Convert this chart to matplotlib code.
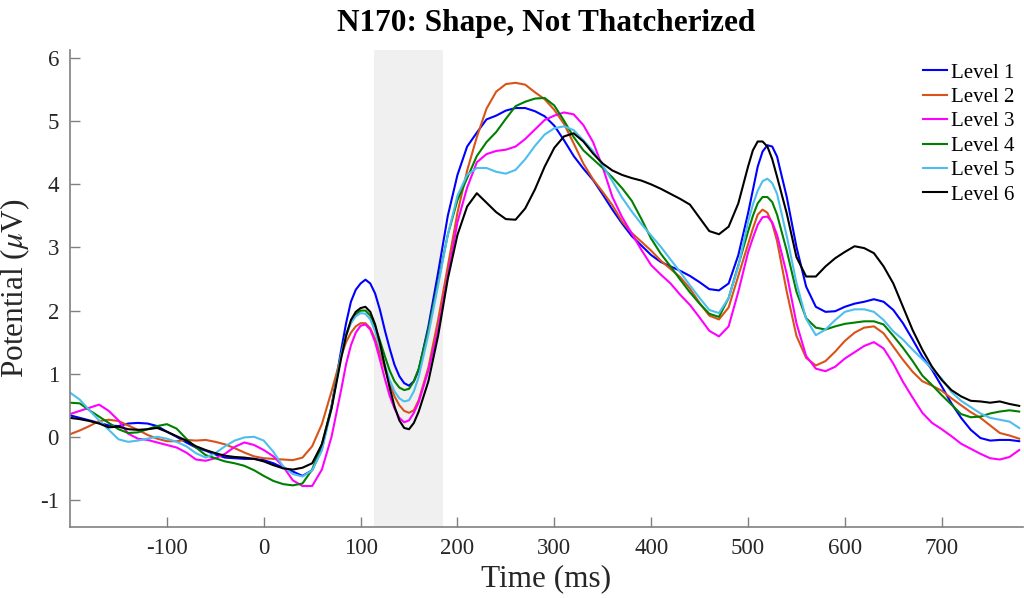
import numpy as np
import matplotlib
matplotlib.use("Agg")
import matplotlib.pyplot as plt

plt.rcParams['font.family'] = ['Liberation Serif', 'DejaVu Serif']
plt.rcParams['mathtext.fontset'] = 'stix'
plt.rcParams['axes.unicode_minus'] = False

# time samples (ms)
times = [-200, -190, -180, -170, -160, -150, -140, -130, -120, -110, -100, -90, -80, -70, -60,
         -50, -40, -30, -20, -10, 0, 10, 20, 30, 40, 50, 60, 70, 80,
         85, 90, 95, 100, 105, 110, 115, 120, 125, 130, 135, 140, 145, 150, 155, 160,
         170, 180, 190, 200, 210, 220, 230, 240, 250, 260, 270, 280, 290, 300, 310, 320,
         330, 340, 350, 360, 370, 380, 390, 400, 410, 420, 430, 440, 450, 460, 470, 480, 490,
         500, 505, 510, 515, 520, 525, 530,
         540, 550, 560, 570, 580, 590, 600, 610, 620, 630, 640, 650, 660, 670, 680, 690,
         700, 710, 720, 730, 740, 750, 760, 770, 780]

level1 = [0.34, 0.30, 0.26, 0.22, 0.18, 0.17, 0.21, 0.22, 0.21, 0.17, 0.08, 0.00, -0.09, -0.17, -0.22,
          -0.28, -0.33, -0.34, -0.35, -0.35, -0.37, -0.42, -0.49, -0.55, -0.62, -0.53, -0.19, 0.48, 1.38,
          1.80, 2.14, 2.33, 2.43, 2.49, 2.43, 2.27, 2.01, 1.69, 1.40, 1.14, 0.96, 0.85, 0.81, 0.88, 1.06,
          1.75, 2.60, 3.50, 4.15, 4.60, 4.82, 5.03, 5.09, 5.17, 5.21, 5.21, 5.16, 5.08, 4.93, 4.70, 4.45,
          4.25, 4.07, 3.84, 3.60, 3.38, 3.18, 3.03, 2.88, 2.77, 2.70, 2.63, 2.55, 2.45, 2.34, 2.32, 2.43, 2.88,
          3.54, 3.91, 4.28, 4.52, 4.62, 4.60, 4.44,
          3.80, 3.01, 2.38, 2.06, 1.98, 1.99, 2.06, 2.11, 2.14, 2.18, 2.14, 2.01, 1.80, 1.54, 1.27, 1.06,
          0.80, 0.53, 0.30, 0.11, -0.02, -0.06, -0.05, -0.05, -0.07]

level2 = [0.04, 0.10, 0.17, 0.25, 0.27, 0.25, 0.18, 0.11, 0.03, -0.03, -0.07, -0.07, -0.05, -0.06, -0.05,
          -0.08, -0.12, -0.18, -0.25, -0.31, -0.34, -0.35, -0.36, -0.37, -0.33, -0.15, 0.20, 0.72, 1.28,
          1.50, 1.65, 1.75, 1.80, 1.80, 1.72, 1.55, 1.32, 1.08, 0.84, 0.64, 0.50, 0.41, 0.38, 0.42, 0.58,
          1.10, 1.85, 2.70, 3.55, 4.22, 4.75, 5.20, 5.47, 5.59, 5.61, 5.58, 5.46, 5.35, 5.18, 4.96, 4.65,
          4.33, 4.08, 3.88, 3.67, 3.41, 3.23, 3.09, 2.95, 2.79, 2.66, 2.53, 2.35, 2.12, 1.92, 1.86, 2.05, 2.55,
          3.05, 3.30, 3.52, 3.60, 3.55, 3.38, 3.10,
          2.30, 1.60, 1.25, 1.13, 1.20, 1.35, 1.52, 1.65, 1.73, 1.75, 1.64, 1.43, 1.22, 1.03, 0.88, 0.81,
          0.73, 0.61, 0.50, 0.39, 0.30, 0.18, 0.06, 0.02, -0.03]

level3 = [0.36, 0.41, 0.46, 0.51, 0.41, 0.26, 0.05, -0.03, -0.05, -0.09, -0.13, -0.17, -0.25, -0.36, -0.38,
          -0.34, -0.27, -0.16, -0.09, -0.13, -0.21, -0.31, -0.47, -0.69, -0.78, -0.78, -0.52, 0.00, 0.75,
          1.15, 1.45, 1.65, 1.76, 1.78, 1.70, 1.50, 1.22, 0.92, 0.65, 0.45, 0.30, 0.23, 0.26, 0.38, 0.55,
          1.05, 1.70, 2.55, 3.40, 3.95, 4.35, 4.48, 4.53, 4.55, 4.60, 4.72, 4.87, 5.02, 5.09, 5.14, 5.11,
          4.94, 4.67, 4.27, 3.80, 3.48, 3.22, 2.96, 2.72, 2.57, 2.43, 2.25, 2.09, 1.89, 1.68, 1.59, 1.75, 2.30,
          2.92, 3.15, 3.36, 3.48, 3.49, 3.40, 3.20,
          2.58, 1.80, 1.28, 1.08, 1.04, 1.11, 1.24, 1.34, 1.44, 1.50, 1.40, 1.16, 0.87, 0.62, 0.38, 0.22,
          0.12, 0.01, -0.11, -0.19, -0.27, -0.34, -0.36, -0.32, -0.21]

level4 = [0.54, 0.53, 0.42, 0.32, 0.22, 0.12, 0.06, 0.07, 0.12, 0.17, 0.20, 0.13, -0.03, -0.17, -0.29,
          -0.34, -0.39, -0.42, -0.46, -0.53, -0.62, -0.70, -0.75, -0.77, -0.74, -0.52, -0.12, 0.48, 1.30,
          1.62, 1.82, 1.94, 2.00, 2.00, 1.92, 1.75, 1.52, 1.28, 1.05, 0.88, 0.78, 0.74, 0.76, 0.88, 1.08,
          1.70, 2.45, 3.20, 3.75, 4.10, 4.45, 4.67, 4.83, 5.04, 5.24, 5.31, 5.36, 5.37, 5.25, 5.01, 4.75,
          4.54, 4.40, 4.26, 4.11, 3.94, 3.74, 3.45, 3.14, 2.90, 2.70, 2.49, 2.29, 2.11, 1.95, 1.90, 2.20, 2.72,
          3.25, 3.50, 3.70, 3.80, 3.80, 3.72, 3.52,
          2.95, 2.30, 1.88, 1.73, 1.70, 1.75, 1.79, 1.81, 1.83, 1.83, 1.78, 1.60, 1.41, 1.20, 0.97, 0.82,
          0.66, 0.51, 0.36, 0.31, 0.32, 0.37, 0.40, 0.42, 0.40]

level5 = [0.70, 0.59, 0.42, 0.26, 0.11, -0.04, -0.08, -0.06, -0.03, 0.00, -0.03, -0.08, -0.15, -0.26, -0.33,
          -0.26, -0.15, -0.06, -0.01, 0.00, -0.06, -0.24, -0.47, -0.59, -0.63, -0.53, -0.22, 0.45, 1.30,
          1.60, 1.80, 1.91, 1.96, 1.95, 1.86, 1.67, 1.42, 1.14, 0.90, 0.72, 0.61, 0.56, 0.58, 0.72, 0.95,
          1.62, 2.40, 3.20, 3.82, 4.15, 4.26, 4.26, 4.20, 4.17, 4.23, 4.40, 4.61, 4.79, 4.89, 4.92, 4.86,
          4.70, 4.53, 4.30, 4.05, 3.79, 3.57, 3.37, 3.19, 3.01, 2.81, 2.61, 2.40, 2.20, 2.01, 1.96, 2.20, 2.70,
          3.40, 3.68, 3.90, 4.05, 4.09, 4.02, 3.85,
          3.18, 2.44, 1.87, 1.61, 1.70, 1.85, 1.98, 2.02, 2.02, 1.98, 1.85, 1.67, 1.54, 1.38, 1.23, 1.08,
          0.92, 0.71, 0.57, 0.47, 0.37, 0.30, 0.27, 0.24, 0.14]

level6 = [0.30, 0.28, 0.25, 0.21, 0.15, 0.16, 0.12, 0.11, 0.12, 0.14, 0.08, 0.01, -0.06, -0.15, -0.21,
          -0.26, -0.30, -0.32, -0.33, -0.35, -0.39, -0.45, -0.50, -0.52, -0.49, -0.42, -0.12, 0.45, 1.25,
          1.60, 1.85, 1.98, 2.04, 2.06, 1.98, 1.78, 1.48, 1.12, 0.78, 0.48, 0.26, 0.14, 0.12, 0.22, 0.40,
          0.88, 1.60, 2.50, 3.20, 3.65, 3.86, 3.71, 3.56, 3.45, 3.44, 3.62, 3.92, 4.28, 4.58, 4.76, 4.81,
          4.68, 4.49, 4.33, 4.22, 4.15, 4.10, 4.06, 4.00, 3.93, 3.85, 3.77, 3.68, 3.47, 3.26, 3.21, 3.33, 3.70,
          4.28, 4.54, 4.68, 4.68, 4.60, 4.40, 4.12,
          3.54, 2.85, 2.54, 2.54, 2.70, 2.83, 2.93, 3.02, 2.99, 2.91, 2.70, 2.43, 2.06, 1.69, 1.38, 1.11,
          0.90, 0.74, 0.64, 0.57, 0.56, 0.54, 0.56, 0.52, 0.49]

labels = ["Level 1", "Level 2", "Level 3", "Level 4", "Level 5", "Level 6"]
series = [level1, level2, level3, level4, level5, level6]
colors = ["#0000FF", "#D95319", "#FF00FF", "#008000", "#4DBEEE", "#000000"]

shade_window = [114, 185]
x_ticks = [-100, 0, 100, 200, 300, 400, 500, 600, 700]
y_ticks = [-1, 0, 1, 2, 3, 4, 5, 6]

fig = plt.figure(figsize=(10.24, 5.98), dpi=100)
ax = fig.add_axes([0.0684, 0.1187, 0.9307, 0.7977])

ax.axvspan(shade_window[0], shade_window[1], color="#F0F0F0", zorder=0, lw=0)
for vals, lab, col in zip(series, labels, colors):
    ax.plot(times, vals, color=col, lw=1.5, label=lab)

ax.set_xlim(-200, 784)
ax.set_ylim(-1.43, 6.13)
ax.set_xticks(x_ticks)
ax.set_yticks(y_ticks)

for s in ["top", "right"]:
    ax.spines[s].set_visible(False)
for s in ["left", "bottom"]:
    ax.spines[s].set_color("#808080")
    ax.spines[s].set_linewidth(1.2)
ax.tick_params(direction="in", length=7, width=1.0, color="#808080",
               labelsize=16.5, labelcolor="#262626", pad=8)

ax.set_xlabel("Time (ms)", fontsize=22.5, color="#262626", labelpad=4)
ax.set_ylabel(r"Potential ($\mu$V)", fontsize=22.5, color="#262626", labelpad=6)
ax.set_title("N170: Shape, Not Thatcherized", fontsize=22.5, fontweight="bold", pad=14)

leg = ax.legend(loc="upper right", frameon=False, fontsize=15, handlelength=1.15,
                handletextpad=0.2, labelspacing=0.23, borderaxespad=0.0,
                bbox_to_anchor=(1.0, 0.99))

fig.savefig("out.png", dpi=100)
